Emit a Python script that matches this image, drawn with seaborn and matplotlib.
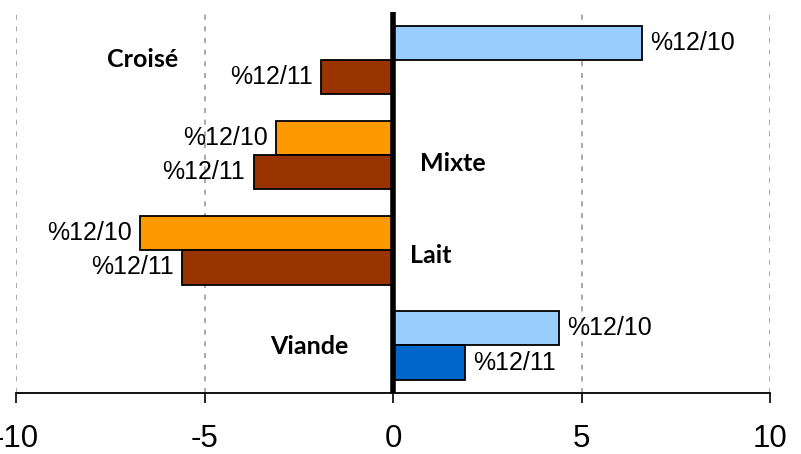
import matplotlib
matplotlib.use("Agg")
import matplotlib.pyplot as plt
import pandas as pd
import seaborn as sns

# Data
categories = ["Croisé", "Mixte", "Lait", "Viande"]
series = ["%12/10", "%12/11"]
values_1210 = [6.6, -3.1, -6.7, 4.4]
values_1211 = [-1.9, -3.7, -5.6, 1.9]

# colours by series, positive / negative
pos_colors = {"%12/10": "#99CCFF", "%12/11": "#0066CC"}
neg_colors = {"%12/10": "#FF9900", "%12/11": "#993300"}

df = pd.DataFrame({
    "Catégorie": categories * 2,
    "Série": [series[0]] * 4 + [series[1]] * 4,
    "Variation": values_1210 + values_1211,
})

sns.set_style("white")
plt.rcParams["font.family"] = ["Liberation Sans", "DejaVu Sans"]
plt.rcParams["axes.unicode_minus"] = False
plt.rcParams["text.color"] = "black"
plt.rcParams["xtick.color"] = "black"

fig = plt.figure(figsize=(8.01, 4.54), dpi=100)
ax = fig.add_axes([16 / 801, 1 - 393 / 454, 754 / 801, 380.5 / 454])

sns.barplot(data=df, y="Catégorie", x="Variation", hue="Série",
            order=categories, hue_order=series, orient="h",
            width=0.72, edgecolor="black", linewidth=1.3,
            legend=False, ax=ax)

# recolour by sign and add series labels
for serie, container in zip(series, ax.containers):
    vals = df[df["Série"] == serie]["Variation"].tolist()
    for bar, v in zip(container, vals):
        bar.set_facecolor(pos_colors[serie] if v >= 0 else neg_colors[serie])
    ax.bar_label(container, labels=[serie] * len(vals), padding=6, fontsize=18, color="black")

ax.set_xlim(-10, 10)
ax.set_ylim(3.5, -0.5)
ax.set_xticks([-10, -5, 0, 5, 10])
ax.set_xticklabels(["-10", "-5", "0", "5", "10"], fontsize=22.5)
ax.tick_params(axis="x", direction="out", length=7.2, width=1.2, color="black",
               labelcolor="black", pad=15, bottom=True)
ax.set_yticks([])
ax.set_xlabel("")
ax.set_ylabel("")

for x in [-10, -5, 5, 10]:
    ax.axvline(x, color="#999999", linestyle=(0, (3, 4)), linewidth=1.2, zorder=0)
ax.axvline(0, color="black", linewidth=4, zorder=5)

for s in ["top", "right", "left"]:
    ax.spines[s].set_visible(False)
ax.spines["bottom"].set_color("black")
ax.spines["bottom"].set_linewidth(1.3)

# category names
label_pos = {"Croisé": (-6.63, 0.074), "Mixte": (1.59, 1.17), "Lait": (1.01, 2.13), "Viande": (-2.23, 3.09)}
for cat in categories:
    x, y = label_pos[cat]
    ax.text(x, y, cat, ha="center", va="baseline", fontsize=18, color="black",
            fontweight="bold", family=["Lato", "DejaVu Sans"])

fig.savefig("out.png", dpi=100)
